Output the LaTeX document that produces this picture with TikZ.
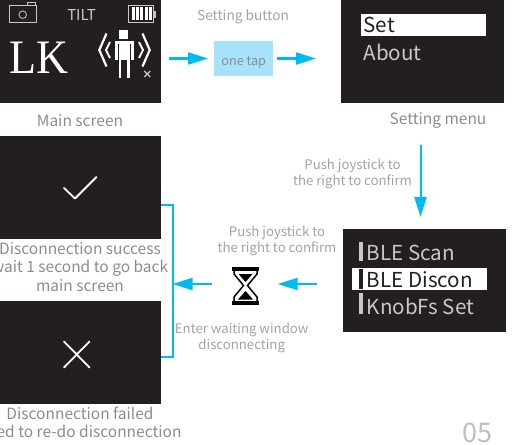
\documentclass[tikz,border=0pt]{standalone}
\usepackage{fontspec}
\setmainfont{Noto Sans CJK SC}
\newfontfamily\lkfont{Liberation Serif}
\usetikzlibrary{arrows.meta}
\definecolor{scr}{HTML}{231F20}
\definecolor{cy}{HTML}{00BBF2}
\definecolor{tapc}{HTML}{A8E1FA}
\definecolor{cap}{HTML}{8C8C8C}
\definecolor{capl}{HTML}{A3A3A3}
\definecolor{scrtxt}{HTML}{C8C8C8}
\tikzset{
 screen/.style={fill=scr,draw=none,inner sep=0pt,anchor=north west},
 captxt/.style={text=cap,font=\fontsize{15.5}{18.5}\selectfont,align=center,inner sep=0pt},
 smalltxt/.style={text=capl,font=\fontsize{13.2}{16}\selectfont,align=center,inner sep=0pt},
 menutxt/.style={text=scrtxt,font=\fontsize{20.6}{26}\selectfont,anchor=base west,inner sep=0pt},
 arr/.style={draw=cy,line width=2pt,-{Triangle[length=20pt,width=12pt]}},
 icon/.style={draw=scrtxt,line width=0.8pt},
 whiteline/.style={draw=white,line width=1.8pt},
}
\begin{document}
\begin{tikzpicture}[x=1pt,y=-1pt]
\useasboundingbox (0,0) rectangle (516,444);
\clip (0,0) rectangle (516,444);
\node[screen,minimum width=161pt,minimum height=103pt] (main) at (0,0) {};
\node[screen,minimum width=163pt,minimum height=103pt] (menu) at (340.5,0) {};
\node[screen,minimum width=161pt,minimum height=103pt] (ok) at (0,136) {};
\node[screen,minimum width=161pt,minimum height=103pt] (fail) at (0,301) {};
\node[screen,minimum width=163pt,minimum height=103pt] (ble) at (342.5,229) {};
\node[fill=tapc,inner sep=0pt,minimum width=59pt,minimum height=35pt,text=cap,text height=14pt,text depth=1pt,font=\fontsize{12.6}{14}\selectfont] (tap) at (243.7,58.5) {one tap};
\node[inner sep=0pt,minimum width=28pt,minimum height=39pt] (hour) at (245.5,285.5) {};
% main screen contents
\draw[icon] (9.5,5) rectangle (36.5,22.5);
\draw[icon] (27,5) -- (27,2.8) -- (35,2.8) -- (35,5);
\draw[icon] (22.7,14.7) circle (3.8);
\node[text=scrtxt,font=\fontsize{15}{18}\selectfont,inner sep=0pt,anchor=base] (tilt) at (81.5,20.5) {TILT};
\draw[icon] (128.5,5) rectangle (153,22.5);
\fill[scrtxt] (153.5,11.5) rectangle (156,18.5);
\foreach \x in {131.5,135.9,140.3,144.7,149.1}\fill[white] (\x,7.5) rectangle +(3,13);
\node[text=white,font=\lkfont\fontsize{48}{50}\selectfont,inner sep=0pt,anchor=base west,xscale=.92,transform shape] (lk) at (9,74) {LK};
\fill[white] (119.3,30) rectangle (128.3,39);
\fill[white] (115,41) rectangle (134,44);
\fill[white] (115,41) rectangle (118,60);
\fill[white] (131,41) rectangle (134,60);
\fill[white] (119.3,41) rectangle (129.8,60);
\fill[white] (118.5,58) rectangle (121,78);
\fill[white] (127,58) rectangle (129.5,78);
\draw[white,line width=2.2pt] (106.5,33.5) -- (99.3,50) -- (106.5,66.5);
\draw[white,line width=2pt] (110,42) -- (106,50) -- (110,58);
\draw[white,line width=2.2pt] (142.5,33.5) -- (149.7,50) -- (142.5,66.5);
\draw[white,line width=2pt] (139,42) -- (143,50) -- (139,58);
\draw[scrtxt,line width=1.2pt] (144.3,71) -- (150.3,77) (150.3,71) -- (144.3,77);
% menu
\fill[white] (360.5,14) rectangle (485.5,36);
\node[menutxt,text=scr] (set) at (363.5,33) {Set};
\node[menutxt] (about) at (363.5,60.5) {About};
% ble
\fill[white] (352.3,268) rectangle (487.3,289.5);
\fill[scrtxt] (359.2,241.5) rectangle (362.5,261);
\fill[scr] (359.2,269) rectangle (362.5,289);
\fill[scrtxt] (359.2,292.7) rectangle (362.5,314);
\node[menutxt] (b1) at (366.5,260) {BLE Scan};
\node[menutxt,text=scr] (b2) at (366.5,287) {BLE Discon};
\node[menutxt] (b3) at (366.5,314) {KnobFs Set};
% check and cross
\draw[whiteline,line cap=round,line join=round] (64,188) -- (75,198.5) -- (96.5,177);
\draw[whiteline,line cap=round] (64,341.5) -- (89.5,367.5) (89.5,341.5) -- (64,367.5);
% hourglass
\fill[black] (232,266.7) rectangle (259,271);
\fill[black] (232,301) rectangle (259,305);
\draw[black,line width=1.5pt] (234,271) -- (234,274) -- (243.5,285.5) -- (234,297) -- (234,301);
\draw[black,line width=1.5pt] (257,271) -- (257,274) -- (247.5,285.5) -- (257,297) -- (257,301);
\fill[black] (238.5,274) -- (252.5,274) -- (245.5,282) -- cycle;
\fill[black] (238,299.5) -- (253,299.5) -- (245.5,291) -- cycle;
% captions
\node[captxt] (c1) at (80,120.8) {Main screen};
\node[captxt] (c2) at (438,120.8) {Setting menu};
\node[captxt] (c3) at (80,267) {Disconnection success\\wait 1 second to go back\\main screen};
\node[captxt] (c4) at (80,422.5) {Disconnection failed\\need to re-do disconnection};
\node[smalltxt,font=\fontsize{13.7}{16}\selectfont] (t1) at (243,16.3) {Setting button};
\node[smalltxt] (t2) at (352.5,173.5) {Push joystick to\\the right to confirm};
\node[smalltxt] (t3) at (277,240.5) {Push joystick to\\the right to confirm};
\node[smalltxt] (t4) at (241.7,338) {Enter waiting window\\disconnecting};
\node[text=capl!70,font=\fontsize{27}{30}\selectfont,inner sep=0pt,anchor=base] (pg) at (477,442) {05};
% connectors
\coordinate (dx) at (420.5,0);
\coordinate (ly) at (0,284);
\coordinate (brk) at (172.5,284);
\draw[arr,shorten <=8pt,shorten >=6pt] (main.east |- tap) -- (tap.west);
\draw[arr,shorten <=3.5pt,shorten >=24.5pt] (tap.east) -- (menu.west |- tap);
\draw[arr,shorten <=42pt,shorten >=12pt] (menu.south -| dx) -- (ble.north -| dx);
\draw[arr,shorten <=26pt,shorten >=18pt] (ble.west |- ly) -- (hour.east |- ly);
\draw[arr,shorten <=19.8pt] (hour.west |- ly) -- (brk);
\draw[cy,line width=2pt] (ok.east |- 0,205) -- (172.5,205) -- (172.5,357) -- (fail.east |- 0,357);
\end{tikzpicture}
\end{document}
